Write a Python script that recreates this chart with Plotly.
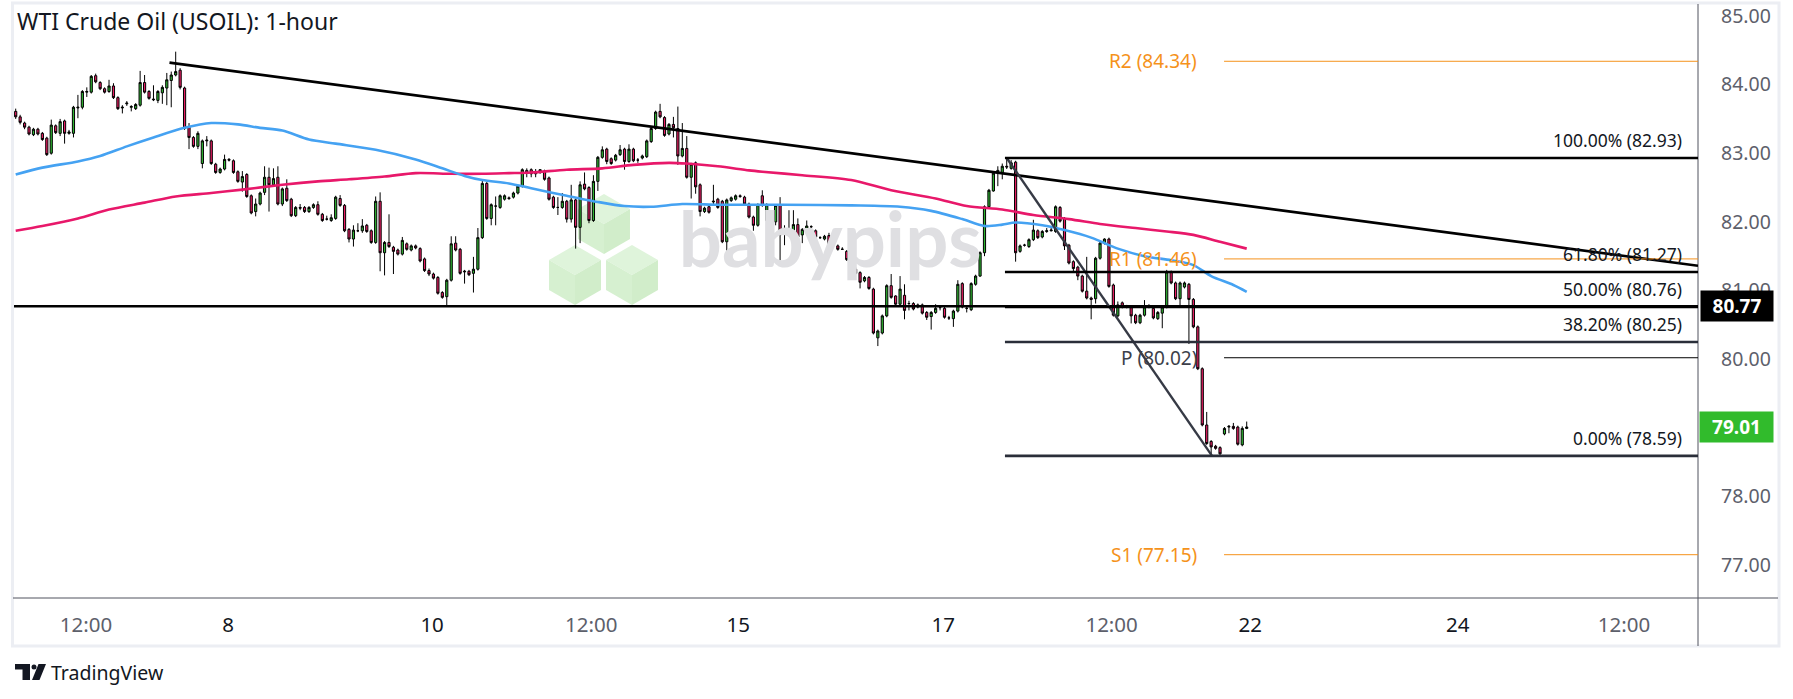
import plotly.graph_objects as go
import math

# ---------------- data ----------------
chart_title = "WTI Crude Oil (USOIL): 1-hour"

opens = [
    83.61, 83.53, 83.44, 83.38, 83.27, 83.35, 83.29, 83.22, 83.00, 83.40,
    83.29, 83.47, 83.29, 83.29, 83.66, 83.67, 83.89, 83.89, 84.13, 84.03,
    83.94, 83.90, 83.98, 83.81, 83.66, 83.72, 83.67, 83.65, 83.70, 84.03,
    83.90, 83.79, 83.77, 83.88, 83.95, 84.06, 84.14, 84.21, 83.95, 83.38,
    83.23, 83.10, 82.85, 83.18, 83.18, 82.84, 82.72, 82.77, 82.91, 82.89,
    82.73, 82.58, 82.69, 82.38, 82.15, 82.26, 82.43, 82.65, 82.54, 82.65,
    82.26, 82.49, 82.33, 82.09, 82.21, 82.21, 82.15, 82.21, 82.25, 82.11,
    82.04, 82.02, 82.05, 82.34, 82.24, 81.89, 81.75, 81.87, 81.87, 81.95,
    81.87, 81.70, 82.30, 81.55, 81.70, 81.63, 81.59, 81.53, 81.68, 81.59,
    81.65, 81.61, 81.46, 81.29, 81.24, 81.19, 80.97, 80.91, 81.15, 81.69,
    81.60, 81.27, 81.28, 81.25, 81.31, 81.77, 82.56, 82.05, 82.23, 82.21,
    82.33, 82.35, 82.36, 82.42, 82.52, 82.75, 82.76, 82.73, 82.72, 82.74,
    82.64, 82.36, 82.21, 82.21, 82.30, 82.04, 82.32, 81.92, 82.55, 82.50,
    82.02, 82.59, 82.94, 83.06, 82.92, 82.90, 82.98, 83.06, 82.88, 83.06,
    82.90, 82.93, 82.95, 83.17, 83.36, 83.61, 83.52, 83.28, 83.42, 83.36,
    82.96, 83.07, 82.65, 82.86, 82.54, 82.15, 82.22, 82.29, 82.33, 82.30,
    81.71, 82.31, 82.33, 82.38, 82.36, 82.26, 82.07, 81.95, 82.38, 82.02,
    82.10, 82.00, 82.24, 81.82, 81.81, 81.86, 81.96, 81.81, 81.88, 81.93,
    81.87, 81.77, 81.75, 81.80, 81.66, 81.65, 81.60, 81.57, 81.45, 81.31,
    81.26, 81.14, 81.19, 81.02, 80.31, 80.38, 80.63, 81.07, 80.92, 80.80,
    80.93, 80.81, 80.81, 80.76, 80.79, 80.68, 80.62, 80.68, 80.75, 80.74,
    80.60, 80.59, 80.70, 81.10, 80.74, 80.72, 81.09, 81.21, 81.55, 82.22,
    82.45, 82.71, 82.72, 82.81, 82.78, 82.87, 81.57, 81.66, 81.64, 81.74,
    81.87, 81.78, 81.86, 81.87, 81.86, 82.21, 82.05, 81.66, 81.42, 81.34,
    81.21, 80.99, 80.89, 80.88, 81.47, 81.69, 81.75, 81.08, 80.63, 80.82,
    80.77, 80.75, 80.64, 80.53, 80.64, 80.76, 80.74, 80.59, 80.67, 80.76,
    81.27, 81.11, 80.88, 81.05, 81.09, 80.87, 80.47, 79.86, 79.04, 78.80,
    78.73, 78.71, 78.91, 79.01, 79.02, 79.01, 78.75, 78.99,
]
highs = [
    83.65, 83.56, 83.46, 83.40, 83.37, 83.37, 83.31, 83.24, 83.49, 83.42,
    83.50, 83.49, 83.34, 83.69, 83.85, 83.92, 83.96, 84.14, 84.16, 84.05,
    83.96, 84.07, 84.02, 83.83, 83.70, 83.76, 83.70, 83.73, 84.20, 84.14,
    83.92, 83.99, 83.92, 83.99, 84.17, 84.19, 84.48, 84.24, 83.97, 83.44,
    83.25, 83.32, 83.20, 83.25, 83.20, 82.86, 82.79, 82.98, 82.93, 82.91,
    82.75, 82.74, 82.71, 82.40, 82.34, 82.44, 82.81, 82.79, 82.78, 82.81,
    82.50, 82.62, 82.35, 82.23, 82.26, 82.23, 82.23, 82.27, 82.30, 82.13,
    82.09, 82.11, 82.38, 82.39, 82.26, 81.91, 81.95, 81.98, 82.04, 81.97,
    81.89, 82.37, 82.43, 81.72, 82.11, 81.65, 81.61, 81.78, 81.70, 81.67,
    81.67, 81.63, 81.48, 81.32, 81.26, 81.21, 80.99, 81.17, 81.79, 81.79,
    81.62, 81.30, 81.30, 81.49, 81.91, 82.62, 82.58, 82.27, 82.37, 82.40,
    82.40, 82.37, 82.44, 82.54, 82.78, 82.78, 82.78, 82.77, 82.77, 82.76,
    82.66, 82.38, 82.36, 82.42, 82.32, 82.54, 82.34, 82.59, 82.72, 82.52,
    82.68, 82.96, 83.10, 83.08, 82.94, 82.99, 83.12, 83.08, 83.13, 83.08,
    82.93, 82.98, 83.20, 83.38, 83.62, 83.72, 83.54, 83.44, 83.53, 83.68,
    83.44, 83.25, 82.86, 82.88, 82.56, 82.22, 82.24, 82.54, 82.35, 82.32,
    82.34, 82.37, 82.40, 82.40, 82.38, 82.28, 82.09, 82.27, 82.46, 82.27,
    82.12, 82.26, 82.36, 81.95, 82.17, 82.17, 82.05, 81.91, 82.02, 81.95,
    81.89, 81.79, 81.81, 81.84, 81.70, 81.67, 81.63, 81.59, 81.47, 81.34,
    81.28, 81.21, 81.21, 81.04, 80.43, 80.65, 81.09, 81.24, 80.93, 81.21,
    81.09, 80.85, 80.83, 80.81, 80.81, 80.70, 80.70, 80.80, 80.77, 80.76,
    80.63, 80.72, 81.15, 81.12, 80.76, 81.12, 81.23, 81.57, 82.24, 82.48,
    82.73, 82.81, 82.85, 82.93, 82.90, 82.89, 81.67, 81.68, 81.76, 82.03,
    81.89, 81.88, 81.91, 81.92, 82.24, 82.23, 82.07, 81.68, 81.44, 81.36,
    81.23, 81.49, 80.91, 81.49, 81.71, 81.76, 81.77, 81.10, 80.84, 80.84,
    80.79, 80.77, 80.66, 80.66, 80.86, 80.80, 80.76, 80.70, 80.78, 81.30,
    81.29, 81.13, 81.13, 81.13, 81.11, 80.89, 80.49, 79.88, 79.23, 78.82,
    78.75, 78.73, 79.01, 79.04, 79.07, 79.03, 79.02, 79.09,
]
lows = [
    83.50, 83.42, 83.35, 83.26, 83.25, 83.26, 83.18, 82.96, 82.98, 83.28,
    83.25, 83.14, 83.27, 83.23, 83.51, 83.64, 83.82, 83.87, 84.02, 83.92,
    83.87, 83.88, 83.79, 83.63, 83.58, 83.69, 83.61, 83.63, 83.68, 83.87,
    83.78, 83.76, 83.73, 83.72, 83.70, 83.67, 84.12, 83.93, 83.34, 83.06,
    83.08, 83.06, 82.78, 83.10, 82.83, 82.70, 82.70, 82.75, 82.88, 82.70,
    82.57, 82.44, 82.35, 82.11, 82.08, 82.24, 82.39, 82.15, 82.52, 82.24,
    82.23, 82.29, 82.07, 82.07, 82.17, 82.13, 82.13, 82.19, 82.09, 82.00,
    82.02, 82.00, 82.03, 82.22, 81.85, 81.70, 81.64, 81.85, 81.84, 81.84,
    81.68, 81.68, 81.28, 81.22, 81.62, 81.24, 81.51, 81.51, 81.58, 81.57,
    81.60, 81.41, 81.27, 81.21, 81.16, 80.94, 80.88, 80.77, 81.13, 81.57,
    81.23, 81.10, 81.21, 80.97, 81.29, 81.75, 82.03, 81.95, 81.95, 82.19,
    82.31, 82.32, 82.34, 82.40, 82.50, 82.65, 82.65, 82.65, 82.70, 82.60,
    82.31, 82.19, 82.10, 82.19, 81.99, 81.99, 81.61, 81.69, 82.46, 81.98,
    82.00, 82.45, 82.92, 82.84, 82.83, 82.88, 82.96, 82.76, 82.86, 82.87,
    82.86, 82.91, 82.93, 83.15, 83.34, 83.51, 83.24, 83.26, 83.23, 82.83,
    82.94, 82.63, 82.34, 82.41, 82.08, 82.13, 82.12, 82.25, 82.19, 81.69,
    81.58, 82.29, 82.31, 82.35, 82.24, 82.05, 81.87, 81.93, 82.22, 82.00,
    81.98, 81.95, 81.44, 81.66, 81.79, 81.81, 81.76, 81.69, 81.82, 81.91,
    81.76, 81.75, 81.73, 81.63, 81.64, 81.58, 81.59, 81.43, 81.20, 81.23,
    81.03, 81.12, 81.01, 80.36, 80.19, 80.36, 80.61, 80.88, 80.78, 80.76,
    80.58, 80.71, 80.71, 80.74, 80.65, 80.57, 80.43, 80.66, 80.71, 80.59,
    80.57, 80.47, 80.68, 80.74, 80.68, 80.70, 81.07, 81.20, 81.50, 82.20,
    82.44, 82.52, 82.62, 82.77, 82.76, 81.42, 81.55, 81.64, 81.62, 81.72,
    81.75, 81.76, 81.84, 81.86, 81.84, 81.99, 81.59, 81.38, 81.27, 81.15,
    80.97, 80.87, 80.58, 80.81, 81.45, 81.67, 81.04, 80.62, 80.61, 80.74,
    80.74, 80.52, 80.51, 80.51, 80.62, 80.74, 80.58, 80.57, 80.45, 80.74,
    81.09, 80.86, 80.76, 81.03, 80.22, 80.45, 79.84, 79.02, 78.75, 78.59,
    78.68, 78.60, 78.89, 78.92, 78.97, 78.74, 78.73, 78.98,
]
closes = [
    83.53, 83.45, 83.38, 83.28, 83.35, 83.28, 83.20, 82.98, 83.41, 83.30,
    83.46, 83.29, 83.31, 83.67, 83.67, 83.90, 83.90, 84.12, 84.04, 83.94,
    83.89, 83.98, 83.81, 83.65, 83.67, 83.73, 83.68, 83.71, 84.03, 83.89,
    83.80, 83.78, 83.90, 83.96, 84.07, 84.14, 84.19, 83.96, 83.36, 83.23,
    83.10, 83.29, 83.18, 83.19, 82.85, 82.72, 82.77, 82.91, 82.90, 82.72,
    82.59, 82.66, 82.37, 82.13, 82.26, 82.42, 82.65, 82.54, 82.63, 82.26,
    82.48, 82.31, 82.09, 82.21, 82.20, 82.15, 82.21, 82.25, 82.11, 82.02,
    82.04, 82.06, 82.36, 82.24, 81.87, 81.75, 81.88, 81.87, 81.94, 81.86,
    81.70, 82.30, 81.55, 81.70, 81.64, 81.57, 81.53, 81.73, 81.60, 81.65,
    81.62, 81.43, 81.29, 81.24, 81.18, 80.96, 80.90, 81.15, 81.68, 81.59,
    81.25, 81.28, 81.23, 81.31, 81.77, 82.56, 82.05, 82.25, 82.23, 82.38,
    82.38, 82.34, 82.42, 82.52, 82.76, 82.71, 82.70, 82.70, 82.76, 82.62,
    82.33, 82.21, 82.21, 82.30, 82.04, 82.32, 81.92, 82.54, 82.48, 82.02,
    82.59, 82.94, 83.05, 82.88, 82.85, 82.97, 83.05, 82.88, 83.06, 82.89,
    82.90, 82.96, 83.18, 83.36, 83.60, 83.53, 83.26, 83.42, 83.37, 82.96,
    83.07, 82.65, 82.84, 82.51, 82.15, 82.20, 82.14, 82.30, 82.21, 81.71,
    82.32, 82.35, 82.38, 82.37, 82.26, 82.07, 81.95, 82.25, 82.24, 82.25,
    82.00, 82.24, 81.81, 81.82, 81.86, 81.96, 81.78, 81.89, 81.94, 81.93,
    81.78, 81.77, 81.79, 81.65, 81.66, 81.60, 81.60, 81.45, 81.31, 81.25,
    81.12, 81.19, 81.03, 80.38, 80.41, 80.63, 81.07, 80.90, 80.80, 81.02,
    80.71, 80.81, 80.73, 80.79, 80.67, 80.61, 80.68, 80.74, 80.75, 80.61,
    80.60, 80.70, 81.09, 80.76, 80.74, 81.10, 81.21, 81.55, 82.22, 82.46,
    82.71, 82.75, 82.81, 82.80, 82.86, 81.55, 81.65, 81.66, 81.74, 81.88,
    81.77, 81.86, 81.87, 81.88, 82.22, 82.01, 81.65, 81.40, 81.32, 81.21,
    80.99, 80.89, 80.87, 81.47, 81.69, 81.75, 81.06, 80.64, 80.79, 80.76,
    80.76, 80.63, 80.53, 80.64, 80.76, 80.77, 80.60, 80.68, 80.76, 81.27,
    81.11, 80.88, 81.11, 81.11, 80.87, 80.47, 79.86, 79.04, 78.77, 78.72,
    78.70, 78.62, 78.99, 79.02, 78.99, 78.76, 78.99, 79.01,
]
bar_index = list(range(1, len(closes) + 1))

# moving averages (bar index, price)
ma_blue_x = [1, 7, 15, 20, 26, 32, 39, 45, 51, 56, 61, 67, 73, 82, 91, 97, 102, 106,
             112, 117, 125, 132, 138, 144, 151, 159, 168, 174, 189, 200, 207, 214,
             219, 223, 226, 232, 237, 243, 249, 255, 261, 266, 270, 275, 278]
ma_blue_y = [82.69, 82.79, 82.88, 82.96, 83.10, 83.23, 83.37, 83.44, 83.42, 83.37,
             83.33, 83.20, 83.14, 83.05, 82.91, 82.78, 82.67, 82.61, 82.56, 82.49,
             82.38, 82.29, 82.23, 82.22, 82.26, 82.25, 82.25, 82.25, 82.24, 82.22,
             82.16, 82.04, 81.94, 81.96, 81.99, 81.95, 81.88, 81.77, 81.61, 81.50,
             81.44, 81.37, 81.21, 81.08, 80.98]
ma_pink_x = [1, 7, 15, 22, 30, 37, 45, 52, 61, 69, 76, 84, 91, 99, 106, 112, 117, 125,
             133, 140, 148, 152, 159, 166, 169, 178, 189, 198, 208, 215, 223, 230, 238,
             245, 253, 260, 266, 272, 278]
ma_pink_y = [81.87, 81.94, 82.05, 82.18, 82.28, 82.37, 82.42, 82.47, 82.54, 82.59,
             82.62, 82.66, 82.71, 82.70, 82.70, 82.71, 82.72, 82.76, 82.78, 82.83,
             82.86, 82.85, 82.81, 82.75, 82.73, 82.68, 82.61, 82.46, 82.34, 82.23,
             82.18, 82.10, 82.04, 81.97, 81.91, 81.86, 81.81, 81.71, 81.61]

# axis ticks (79.00 is hidden behind the last-price box in the reference)
time_tick_pos = [16.8, 48.8, 94.7, 130.5, 163.6, 209.7, 247.6, 278.8, 325.5, 362.9]
time_tick_text = ["12:00", "8", "10", "12:00", "15", "17", "12:00", "22", "24", "12:00"]
price_ticks = [77, 78, 80, 81, 82, 83, 84, 85]

# drawings
support_level = 80.77
trend_x = [35.6, 379.55]
trend_y = [84.32, 81.36]
fib_swing_x = [224, 270.2]
fib_swing_y = [82.93, 78.59]
fib_names = ["100.00%", "61.80%", "50.00%", "38.20%", "0.00%"]
fib_levels = [82.93, 81.27, 80.76, 80.25, 78.59]
pivot_names = ["R2", "R1", "P", "S1"]
pivot_levels = [84.34, 81.46, 80.02, 77.15]
last_price = 79.01

# ---------------- geometry ----------------
W, H = 1793, 699
PL, PR, PT, PB = 14, 1698, 5, 598
X_MIN, X_MAX = 0.6175, 379.55
Y_MIN, Y_MAX = 76.519, 85.16


def fx(p):
    return (p - PL) / (PR - PL)


def fy(p):
    return (PB - p) / (PB - PT)


FONT = "Noto Sans"
GREEN = "#2fb532"
PINK = "#e91e63"
ORANGE = "#f5921b"
DARK = "#131722"

fig = go.Figure()

# watermark text (behind the candles)
fig.add_trace(go.Scatter(
    x=[184.3], y=[81.62], mode="text", text=["<b>babypips</b>"],
    textfont=dict(family="Lato", size=76, color="#dfdfe2"),
    hoverinfo="skip", showlegend=False))

fig.add_trace(go.Candlestick(
    x=bar_index, open=opens, high=highs, low=lows, close=closes,
    increasing=dict(fillcolor=GREEN, line=dict(color="#000000", width=1)),
    decreasing=dict(fillcolor=PINK, line=dict(color="#000000", width=1)),
    whiskerwidth=0, showlegend=False, hoverinfo="skip"))

fig.add_trace(go.Scatter(
    x=ma_pink_x, y=ma_pink_y, mode="lines",
    line=dict(color="#e8186a", width=2.6, shape="spline", smoothing=0.8),
    hoverinfo="skip", showlegend=False))
fig.add_trace(go.Scatter(
    x=ma_blue_x, y=ma_blue_y, mode="lines",
    line=dict(color="#45a2f2", width=2.6, shape="spline", smoothing=0.8),
    hoverinfo="skip", showlegend=False))

shapes = []

# babypips cubes (watermark, behind)
cube_centers = [(604, 224), (575, 275), (632, 275)]
r = 30
c30 = math.cos(math.radians(30))
for cx, cy in cube_centers:
    top = (cx, cy - r)
    ur = (cx + r * c30, cy - r / 2)
    lr = (cx + r * c30, cy + r / 2)
    bot = (cx, cy + r)
    ll = (cx - r * c30, cy + r / 2)
    ul = (cx - r * c30, cy - r / 2)
    ctr = (cx, cy)
    faces = [([top, ur, ctr, ul], "#dff4db"),
             ([ul, ctr, bot, ll], "#d6f0d0"),
             ([ctr, ur, lr, bot], "#d1edca")]
    for pts, col in faces:
        path = "M " + " L ".join(f"{fx(a):.5f},{fy(b):.5f}" for a, b in pts) + " Z"
        shapes.append(dict(type="path", xref="paper", yref="paper", path=path,
                           fillcolor=col, line=dict(width=0), layer="below"))

# frame
shapes.append(dict(type="rect", xref="paper", yref="paper",
                   x0=fx(12.5), x1=fx(1779), y0=fy(646), y1=fy(3),
                   line=dict(color="#eceef3", width=3), layer="below"))
shapes.append(dict(type="line", xref="paper", yref="paper",
                   x0=fx(PR), x1=fx(PR), y0=fy(646), y1=fy(4),
                   line=dict(color="#50535e", width=1)))
shapes.append(dict(type="line", xref="paper", yref="paper",
                   x0=fx(13), x1=fx(1778), y0=fy(PB), y1=fy(PB),
                   line=dict(color="#50535e", width=1)))

# horizontal support
shapes.append(dict(type="line", xref="x", yref="y", x0=X_MIN, x1=X_MAX,
                   y0=support_level, y1=support_level,
                   line=dict(color="#000000", width=2.6)))
# descending trendline
shapes.append(dict(type="line", xref="x", yref="y", x0=trend_x[0], x1=trend_x[1],
                   y0=trend_y[0], y1=trend_y[1], line=dict(color="#000000", width=2.6)))
# fib swing diagonal
shapes.append(dict(type="line", xref="x", yref="y", x0=fib_swing_x[0], x1=fib_swing_x[1],
                   y0=fib_swing_y[0], y1=fib_swing_y[1],
                   line=dict(color="#363a45", width=2.4)))
fib_colors = ["#000000", "#000000", "#000000", "#2a2e39", "#2a2e39"]
for lvl, col in zip(fib_levels, fib_colors):
    shapes.append(dict(type="line", xref="x", yref="y", x0=223.6, x1=X_MAX,
                       y0=lvl, y1=lvl, line=dict(color=col, width=2.6)))
pivot_colors = [ORANGE, ORANGE, "#000000", ORANGE]
for lvl, col in zip(pivot_levels, pivot_colors):
    shapes.append(dict(type="line", xref="x", yref="y", x0=272.9, x1=X_MAX,
                       y0=lvl, y1=lvl, line=dict(color=col, width=1)))


# TradingView logo glyph
def rect_path(x0, y0, x1, y1):
    return (f"M {fx(x0):.5f},{fy(y0):.5f} L {fx(x1):.5f},{fy(y0):.5f} "
            f"L {fx(x1):.5f},{fy(y1):.5f} L {fx(x0):.5f},{fy(y1):.5f} Z")


shapes.append(dict(type="path", xref="paper", yref="paper", path=rect_path(15, 664, 30, 669.5),
                   fillcolor=DARK, line=dict(width=0)))
shapes.append(dict(type="path", xref="paper", yref="paper", path=rect_path(22.5, 664, 30, 680),
                   fillcolor=DARK, line=dict(width=0)))
shapes.append(dict(type="circle", xref="paper", yref="paper",
                   x0=fx(31.5), x1=fx(36.5), y0=fy(669.5), y1=fy(664.5),
                   fillcolor=DARK, line=dict(width=0)))
para = [(38.5, 664), (46, 664), (39.5, 680), (32, 680)]
shapes.append(dict(type="path", xref="paper", yref="paper",
                   path="M " + " L ".join(f"{fx(a):.5f},{fy(b):.5f}" for a, b in para) + " Z",
                   fillcolor=DARK, line=dict(width=0)))

annotations = []
annotations.append(dict(xref="paper", yref="paper", x=fx(15), y=fy(21), xanchor="left",
                        yanchor="middle", text=chart_title, showarrow=False,
                        font=dict(family=FONT, size=23, color=DARK)))
annotations.append(dict(xref="paper", yref="paper", x=fx(49), y=fy(672), xanchor="left",
                        yanchor="middle", text="TradingView", showarrow=False,
                        font=dict(family=FONT, size=19.5, color=DARK)))

for name, lvl in zip(fib_names, fib_levels):
    annotations.append(dict(xref="x", yref="y", x=376.4, y=lvl, xanchor="right",
                            yanchor="middle", yshift=18, showarrow=False,
                            text=f"{name} ({lvl:.2f})",
                            font=dict(family=FONT, size=17.5, color=DARK)))
pivot_text_colors = [ORANGE, ORANGE, "#3c3f4a", ORANGE]
for name, lvl, col in zip(pivot_names, pivot_levels, pivot_text_colors):
    annotations.append(dict(xref="x", yref="y", x=267.3, y=lvl, xanchor="right",
                            yanchor="middle", showarrow=False,
                            text=f"{name} ({lvl:.2f})",
                            font=dict(family=FONT, size=19, color=col)))

annotations.append(dict(xref="paper", yref="y", x=1, y=support_level, xanchor="left",
                        yanchor="middle", xshift=2, showarrow=False,
                        text=f"<b>{support_level:.2f}</b>", bgcolor="#000000",
                        width=68, height=26, borderpad=2, align="center",
                        font=dict(family=FONT, size=19, color="#ffffff")))
annotations.append(dict(xref="paper", yref="y", x=1, y=last_price, xanchor="left",
                        yanchor="middle", xshift=1, showarrow=False,
                        text=f"<b>{last_price:.2f}</b>", bgcolor="#31bb2c",
                        width=69, height=26, borderpad=2, align="center",
                        font=dict(family=FONT, size=19, color="#ffffff")))

day_color = DARK
time_labels = [t if ":" in t else f"<span style='color:{day_color}'>{t}</span>"
               for t in time_tick_text]

fig.update_layout(
    width=W, height=H,
    margin=dict(l=PL, r=W - PR, t=PT, b=H - PB, pad=0, autoexpand=False),
    paper_bgcolor="#ffffff", plot_bgcolor="#ffffff",
    showlegend=False,
    shapes=shapes, annotations=annotations,
    xaxis=dict(range=[X_MIN, X_MAX], showgrid=False, zeroline=False, showline=False,
               automargin=False,
               tickmode="array", tickvals=time_tick_pos, ticktext=time_labels,
               ticks="", ticklabelstandoff=12,
               tickfont=dict(family=FONT, size=20.5, color="#5d606b"),
               rangeslider=dict(visible=False), fixedrange=True),
    yaxis=dict(range=[Y_MIN, Y_MAX], side="right", showgrid=False, zeroline=False,
               automargin=False,
               showline=False, tickmode="array", tickvals=price_ticks,
               ticktext=[f"{v:.2f}" for v in price_ticks], ticks="",
               ticklabelstandoff=22,
               tickfont=dict(family=FONT, size=19.5, color="#5d606b"),
               fixedrange=True),
    hovermode=False,
)

fig.write_html("out.html",
               config={"displayModeBar": False, "staticPlot": True},
               post_script="document.body.style.margin='0px';document.body.style.overflow='hidden';")
